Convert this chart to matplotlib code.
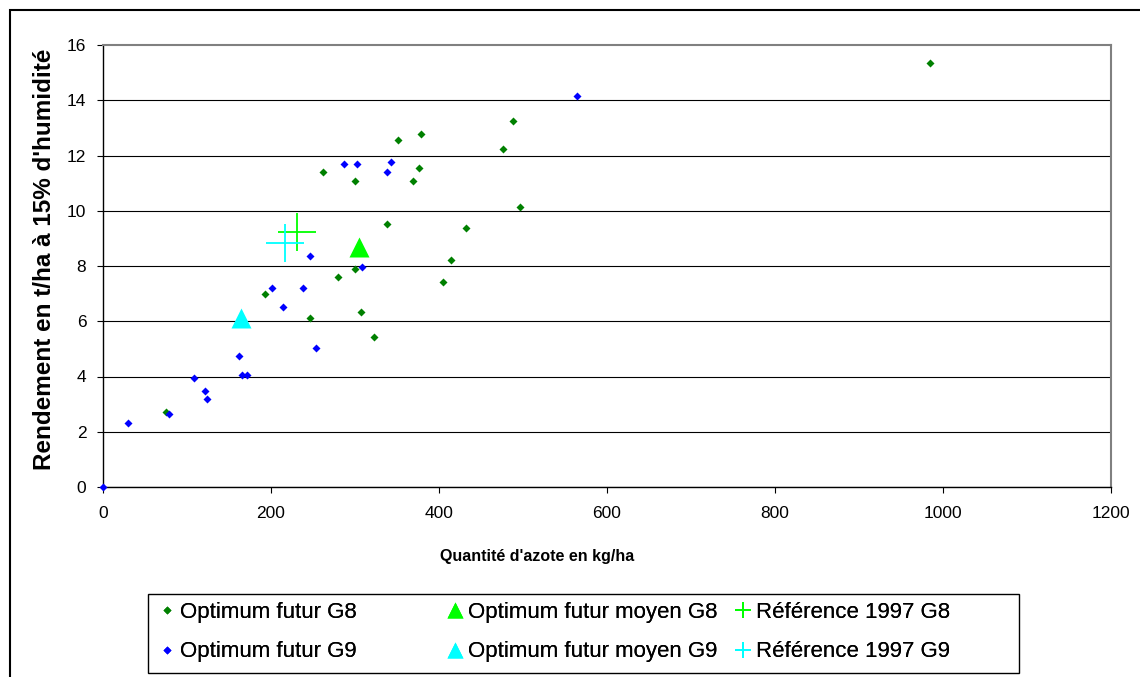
import matplotlib
matplotlib.use("Agg")
import matplotlib.pyplot as plt
from matplotlib.lines import Line2D
from matplotlib.patches import Rectangle

# Optimum futur G8 / G9 (azote kg/ha, rendement t/ha)
g8_x = [74.5, 193.1, 246.2, 262.0, 279.9, 299.7, 300.1, 306.8, 322.3, 338.2, 351.6,
        369.1, 376.2, 378.2, 404.8, 414.3, 431.7, 476.5, 487.6, 496.8, 984.0]
g8_y = [2.71, 7.00, 6.11, 11.41, 7.61, 7.88, 11.08, 6.32, 5.43, 9.51, 12.57,
        11.08, 11.55, 12.79, 7.41, 8.22, 9.39, 12.24, 13.25, 10.12, 15.36]

g9_x = [0.0, 29.7, 78.5, 107.9, 121.3, 123.3, 161.7, 165.7, 170.9, 201.4,
        214.5, 237.5, 246.2, 253.3, 286.6, 302.1, 308.9, 338.2, 342.5, 563.8]
g9_y = [0.0, 2.30, 2.64, 3.93, 3.48, 3.19, 4.75, 4.07, 4.07, 7.19,
        6.52, 7.19, 8.36, 5.02, 11.69, 11.69, 7.95, 11.41, 11.75, 14.15]

# moyennes et références 1997
moyen_g8 = (304.5, 8.70)
moyen_g9 = (163.7, 6.11)
ref_g8 = (230.7, 9.24)
ref_g9 = (217.2, 8.84)

x_ticks = [0, 200, 400, 600, 800, 1000, 1200]
y_ticks = [0, 2, 4, 6, 8, 10, 12, 14, 16]

W, H = 1140, 677
fig = plt.figure(figsize=(W / 100, H / 100), dpi=100)
ax = fig.add_axes([103 / W, 1 - 487 / H, (1111 - 103) / W, (487 - 45) / H])

regular = ['Liberation Sans', 'DejaVu Sans']

ax.plot(g8_x, g8_y, 'D', color='#008000', ms=4.3, mec='none', clip_on=False, zorder=3)
ax.plot(g9_x, g9_y, 'D', color='#0000ff', ms=4.3, mec='none', clip_on=False, zorder=3)
ax.plot(*moyen_g8, '^', color='#00ff00', ms=14.5, mec='none', zorder=4)
ax.plot(*moyen_g9, '^', color='#00ffff', ms=14.5, mec='none', zorder=4)
ax.plot(*ref_g8, '+', color='#00ff00', ms=28, mew=1.3, zorder=4)
ax.plot(*ref_g9, '+', color='#00ffff', ms=28, mew=1.3, zorder=4)

ax.set_xlim(0, 1200)
ax.set_ylim(0, 16)
ax.set_xticks(x_ticks)
ax.set_yticks(y_ticks)
ax.yaxis.grid(True, color='black', lw=0.8)
ax.get_ygridlines()[-1].set_visible(False)
ax.set_axisbelow(True)

for s in ['top', 'right']:
    ax.spines[s].set_color('#808080')
    ax.spines[s].set_linewidth(1.5)
for s in ['left', 'bottom']:
    ax.spines[s].set_color('black')
    ax.spines[s].set_linewidth(1.0)

ax.tick_params(direction='out', length=4, width=0.8)
ax.tick_params(axis='y', pad=8)
ax.tick_params(axis='x', pad=10)
for lab in ax.get_yticklabels():
    lab.set_family(regular)
    lab.set_fontsize(12.5)
for lab in ax.get_xticklabels():
    lab.set_family(regular)
    lab.set_fontsize(12.5)

fig.text(45 / W, 1 - 259 / H, "Rendement en t/ha à 15% d'humidité", rotation=90,
         ha='center', va='center', fontsize=17.5, fontweight='bold', family=regular)
fig.text(537 / W, 1 - 557 / H, "Quantité d'azote en kg/ha", ha='center', va='center',
         fontsize=11.5, fontweight='bold', family=regular)

# légende : trois colonnes posées à la main
columns = [
    (156, [Line2D([], [], ls='none', marker='D', color='#008000', ms=4, mec='none'),
           Line2D([], [], ls='none', marker='D', color='#0000ff', ms=4, mec='none')],
     ['Optimum futur G8', 'Optimum futur G9']),
    (444, [Line2D([], [], ls='none', marker='^', color='#00ff00', ms=12, mec='none'),
           Line2D([], [], ls='none', marker='^', color='#00ffff', ms=12, mec='none')],
     ['Optimum futur moyen G8', 'Optimum futur moyen G9']),
    (732, [Line2D([], [], ls='none', marker='+', color='#00ff00', ms=11, mew=1.3),
           Line2D([], [], ls='none', marker='+', color='#00ffff', ms=11, mew=1.3)],
     ['Référence 1997 G8', 'Référence 1997 G9']),
]
for x0, handles, labels in columns:
    leg = fig.legend(handles, labels, loc='center left',
                     bbox_to_anchor=(x0 / W, 1 - 632 / H), frameon=False,
                     prop={'family': regular, 'size': 16}, handlelength=1.0,
                     handletextpad=0.1, labelspacing=0.85, borderpad=0,
                     borderaxespad=0)
    fig.add_artist(leg)

fig.add_artist(Rectangle((148 / W, 1 - 673 / H), (1019 - 148) / W, (673 - 594) / H,
                         transform=fig.transFigure, fill=False, ec='black', lw=1.0))

# cadre du graphique (haut et gauche visibles)
fig.add_artist(Rectangle((10 / W, -0.1), 1.2, 1.1 - 10 / H,
                         transform=fig.transFigure, fill=False, ec='black', lw=1.5))

fig.savefig('out.png', dpi=100)
